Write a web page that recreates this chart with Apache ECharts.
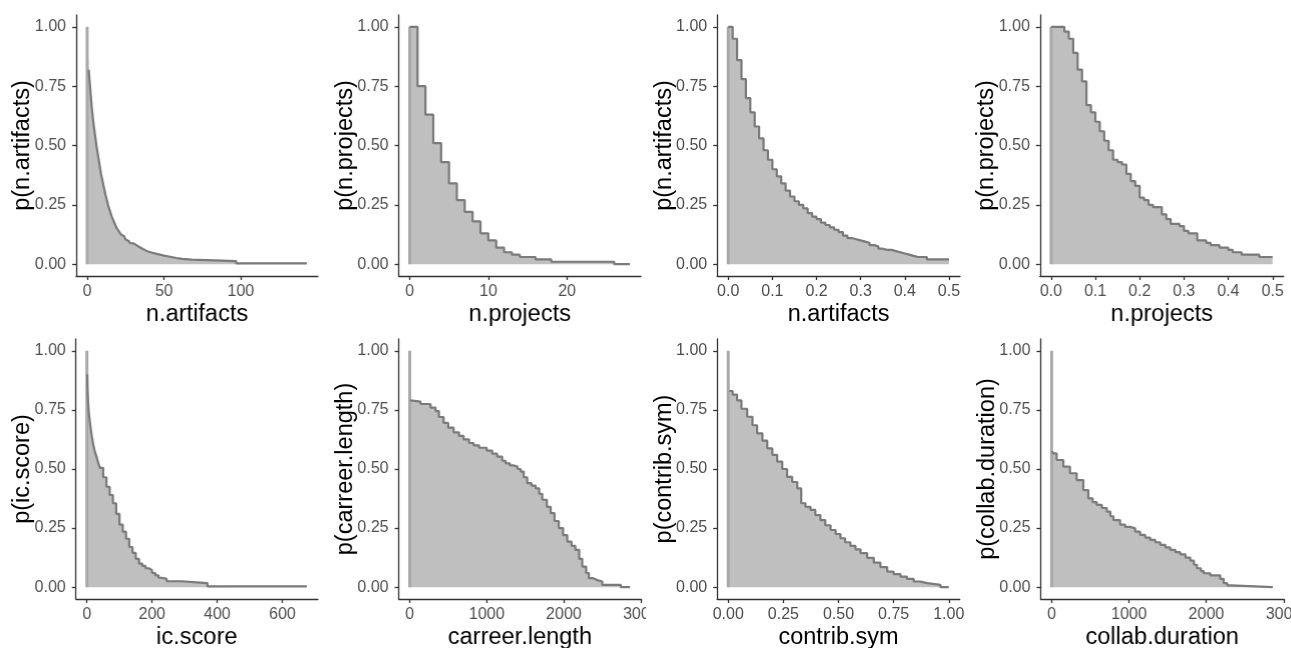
<!DOCTYPE html>
<html>
<head>
<meta charset="utf-8">
<script src="https://cdn.jsdelivr.net/npm/echarts@6/dist/echarts.min.js"></script>
<style>
  html, body { margin: 0; padding: 0; background: #ffffff; }
  #wrap { position: relative; width: 1291px; height: 648px; overflow: hidden; background: #fff; }
  .panel { position: absolute; overflow: hidden; }
  .inner { position: absolute; left: 0; top: 0; }
</style>
</head>
<body>
<div id="wrap"></div>
<script>
// ---------------- DATA ----------------
const yTicks = [0, 0.25, 0.5, 0.75, 1];

const nArtifactsX = [0,1,2,3,4,5,6,7,8,9,10,11,12,13,14,15,16,17,18,19,20,21,22,23,24,25,26,27,28,30,32,34,36,38,40,43,46,50,54,58,62,68,97,143];
const nArtifactsP = [1.0,0.82,0.74,0.66,0.60,0.55,0.50,0.46,0.42,0.38,0.35,0.32,0.29,0.265,0.24,0.22,0.20,0.185,0.17,0.155,0.145,0.135,0.125,0.118,0.11,0.104,0.098,0.092,0.088,0.08,0.072,0.065,0.058,0.052,0.047,0.042,0.036,0.031,0.026,0.022,0.019,0.013,0.003,0.003];
const nArtifactsTicks = [0, 50, 100];

const nProjectsX = [0,1,2,3,4,5,6,7,8,9,10,11,12,13,14,16,18,26,28];
const nProjectsP = [1.0,0.75,0.63,0.51,0.43,0.34,0.27,0.22,0.18,0.13,0.10,0.07,0.05,0.04,0.03,0.02,0.01,0.0,0.0];
const nProjectsTicks = [0, 10, 20];

const nArtifactsNormX = [0,0.01,0.02,0.03,0.04,0.05,0.06,0.07,0.08,0.09,0.10,0.11,0.12,0.13,0.14,0.15,0.16,0.17,0.18,0.19,0.20,0.21,0.22,0.23,0.24,0.25,0.26,0.27,0.28,0.29,0.30,0.31,0.32,0.33,0.34,0.35,0.36,0.37,0.38,0.39,0.40,0.41,0.42,0.43,0.44,0.45,0.50];
const nArtifactsNormP = [1.00,0.95,0.86,0.78,0.70,0.64,0.58,0.53,0.48,0.44,0.40,0.37,0.34,0.31,0.285,0.265,0.25,0.235,0.215,0.20,0.19,0.175,0.165,0.155,0.145,0.135,0.12,0.11,0.105,0.10,0.095,0.09,0.08,0.075,0.065,0.06,0.06,0.055,0.05,0.045,0.04,0.035,0.03,0.03,0.03,0.02,0.02];
const nArtifactsNormTicks = [0, 0.1, 0.2, 0.3, 0.4, 0.5];

const nProjectsNormX = [0,0.03,0.04,0.05,0.06,0.07,0.08,0.09,0.10,0.11,0.12,0.13,0.14,0.15,0.16,0.17,0.18,0.19,0.20,0.21,0.22,0.23,0.25,0.26,0.27,0.29,0.30,0.31,0.33,0.35,0.36,0.38,0.40,0.41,0.43,0.47,0.50];
const nProjectsNormP = [1.0,0.98,0.95,0.89,0.82,0.77,0.67,0.64,0.60,0.56,0.52,0.48,0.44,0.43,0.42,0.38,0.35,0.33,0.28,0.27,0.25,0.24,0.21,0.19,0.17,0.16,0.14,0.13,0.10,0.09,0.08,0.07,0.06,0.05,0.04,0.03,0.03];
const nProjectsNormTicks = [0, 0.1, 0.2, 0.3, 0.4, 0.5];

const icScoreX = [0,1,2,4,6,10,15,20,25,30,35,40,50,60,70,80,90,100,110,120,130,140,150,160,170,180,190,200,210,220,230,245,290,370,675];
const icScoreP = [1.0,0.9,0.84,0.78,0.74,0.69,0.64,0.6,0.57,0.55,0.525,0.505,0.465,0.425,0.39,0.355,0.31,0.265,0.235,0.205,0.17,0.145,0.12,0.10,0.09,0.08,0.072,0.06,0.05,0.04,0.035,0.025,0.017,0.003,0.003];
const icScoreTicks = [0, 200, 400, 600];

const careerX = [0,5,30,140,270,335,380,440,500,570,640,700,770,830,900,1000,1070,1135,1200,1245,1300,1350,1400,1440,1480,1525,1580,1635,1680,1720,1780,1830,1880,1935,1990,2045,2100,2150,2200,2240,2290,2325,2380,2435,2500,2740,2860];
const careerP = [1.0,0.79,0.785,0.775,0.76,0.745,0.72,0.695,0.675,0.655,0.64,0.625,0.61,0.60,0.59,0.578,0.565,0.552,0.535,0.524,0.515,0.51,0.50,0.489,0.465,0.44,0.43,0.418,0.395,0.37,0.34,0.313,0.28,0.25,0.22,0.193,0.175,0.158,0.12,0.087,0.06,0.038,0.03,0.024,0.01,0.0,0.0];
const careerTicks = [0, 1000, 2000, 3000];

const contribX = [0,0.005,0.02,0.04,0.06,0.086,0.11,0.131,0.155,0.177,0.2,0.222,0.245,0.267,0.29,0.313,0.331,0.35,0.373,0.395,0.418,0.44,0.464,0.487,0.509,0.53,0.554,0.577,0.6,0.63,0.66,0.69,0.721,0.75,0.781,0.81,0.841,0.87,0.902,0.962,1.0];
const contribP = [1.0,0.83,0.815,0.79,0.755,0.721,0.685,0.651,0.62,0.587,0.56,0.531,0.5,0.467,0.445,0.418,0.355,0.34,0.327,0.305,0.284,0.262,0.242,0.225,0.207,0.19,0.175,0.16,0.144,0.124,0.104,0.085,0.066,0.055,0.045,0.035,0.024,0.017,0.01,0.0,0.0];
const contribTicks = [0, 0.25, 0.5, 0.75, 1];

const collabX = [0,5,21,65,151,237,324,410,474,530,583,650,713,760,799,885,950,1015,1080,1144,1210,1274,1340,1404,1470,1533,1600,1663,1730,1793,1840,1879,1930,1966,2050,2180,2225,2270,2312,2860];
const collabP = [1.0,0.575,0.566,0.538,0.51,0.482,0.453,0.411,0.376,0.36,0.348,0.335,0.32,0.3,0.284,0.265,0.255,0.249,0.235,0.221,0.21,0.2,0.19,0.179,0.168,0.158,0.148,0.139,0.125,0.112,0.095,0.08,0.068,0.059,0.05,0.035,0.017,0.008,0.0,0.0];
const collabTicks = [0, 1000, 2000, 3000];

const panels = [
  { xs: nArtifactsX, ys: nArtifactsP, ticks: nArtifactsTicks, digits: 0, xName: 'n.artifacts', yName: 'p(n.artifacts)', lineStart: 1 },
  { xs: nProjectsX, ys: nProjectsP, ticks: nProjectsTicks, digits: 0, xName: 'n.projects', yName: 'p(n.projects)', lineStart: 0 },
  { xs: nArtifactsNormX, ys: nArtifactsNormP, ticks: nArtifactsNormTicks, digits: 1, xName: 'n.artifacts', yName: 'p(n.artifacts)', lineStart: 0 },
  { xs: nProjectsNormX, ys: nProjectsNormP, ticks: nProjectsNormTicks, digits: 1, xName: 'n.projects', yName: 'p(n.projects)', lineStart: 0 },
  { xs: icScoreX, ys: icScoreP, ticks: icScoreTicks, digits: 0, xName: 'ic.score', yName: 'p(ic.score)', lineStart: 1 },
  { xs: careerX, ys: careerP, ticks: careerTicks, digits: 0, xName: 'carreer.length', yName: 'p(carreer.length)', lineStart: 1 },
  { xs: contribX, ys: contribP, ticks: contribTicks, digits: 2, xName: 'contrib.sym', yName: 'p(contrib.sym)', lineStart: 1 },
  { xs: collabX, ys: collabP, ticks: collabTicks, digits: 0, xName: 'collab.duration', yName: 'p(collab.duration)', lineStart: 1 }
];

// ---------------- LAYOUT ----------------
const PW = 1291 / 4, PH = 324;
const gridBoxes = [
  { left: 76,   top: 15, width: 241,   height: 261 },
  { left: 75.5, top: 15, width: 241.5, height: 261 },
  { left: 71.2, top: 15, width: 242.8, height: 261 },
  { left: 71.8, top: 15, width: 243,   height: 261 },
  { left: 75.7, top: 15, width: 241.3, height: 260 },
  { left: 75.5, top: 15, width: 241.7, height: 260 },
  { left: 71.2, top: 15, width: 242.6, height: 260 },
  { left: 72.4, top: 15, width: 242.6, height: 260 }
];

const FONT = '"Liberation Sans", Arial, sans-serif';
const wrap = document.getElementById('wrap');
const EXTRA = 60;

panels.forEach((p, i) => {
  const col = i % 4, row = Math.floor(i / 4);
  const div = document.createElement('div');
  div.className = 'panel';
  div.style.left = (col * PW) + 'px';
  div.style.top = (row * PH) + 'px';
  div.style.width = PW + 'px';
  div.style.height = (PH + 16) + 'px';
  wrap.appendChild(div);
  const inner = document.createElement('div');
  inner.className = 'inner';
  inner.style.width = (PW + EXTRA) + 'px';
  inner.style.height = (PH + EXTRA) + 'px';
  div.appendChild(inner);
  const chart = echarts.init(inner, null, { renderer: 'canvas', width: PW + EXTRA, height: PH + EXTRA });
  const xmax = Math.max.apply(null, p.xs);
  const data = p.xs.map((x, k) => [x, p.ys[k]]);
  const edge = [[p.xs[0], 0], [p.xs[0], p.ys[0]]];
  const axisLineStyle = { color: '#333333', width: 1.3 };
  const g = Object.assign({ outerBoundsMode: 'none', containLabel: false }, gridBoxes[i]);
  chart.setOption({
    animation: false,
    grid: g,
    xAxis: {
      type: 'value',
      min: -0.05 * xmax,
      max: 1.05 * xmax,
      splitLine: { show: false },
      axisLine: { show: true, onZero: false, lineStyle: axisLineStyle },
      axisTick: { show: true, length: 4, customValues: p.ticks, lineStyle: axisLineStyle },
      axisLabel: {
        customValues: p.ticks, color: '#4d4d4d', fontSize: 16, fontFamily: FONT, margin: 8,
        formatter: v => Number(v).toFixed(p.digits)
      },
      name: p.xName,
      nameLocation: 'middle',
      nameMoveOverlap: false,
      nameGap: 27,
      nameTextStyle: { color: '#000000', fontSize: 23.5, fontFamily: FONT }
    },
    yAxis: {
      type: 'value',
      min: -0.05,
      max: 1.05,
      splitLine: { show: false },
      axisLine: { show: true, onZero: false, lineStyle: axisLineStyle },
      axisTick: { show: true, length: 4, customValues: yTicks, lineStyle: axisLineStyle },
      axisLabel: {
        customValues: yTicks, color: '#4d4d4d', fontSize: 16, fontFamily: FONT, margin: 10,
        formatter: v => Number(v).toFixed(2)
      },
      name: p.yName,
      nameLocation: 'middle',
      nameMoveOverlap: false,
      nameGap: 41,
      nameTextStyle: { color: '#000000', fontSize: 23.5, fontFamily: FONT }
    },
    series: [
      {
        type: 'line',
        step: 'end',
        data: data,
        symbol: 'none',
        showSymbol: false,
        lineStyle: { width: 0, opacity: 0 },
        areaStyle: { color: '#bfbfbf', opacity: 1 },
        z: 1
      },
      {
        type: 'line',
        data: edge,
        symbol: 'none',
        showSymbol: false,
        lineStyle: { color: '#a9a9a9', width: 3 },
        z: 2
      },
      {
        type: 'line',
        step: 'end',
        data: data.slice(p.lineStart),
        symbol: 'none',
        showSymbol: false,
        lineStyle: { color: '#7a7a7a', width: 2.2 },
        z: 3
      }
    ]
  });
});
</script>
</body>
</html>
